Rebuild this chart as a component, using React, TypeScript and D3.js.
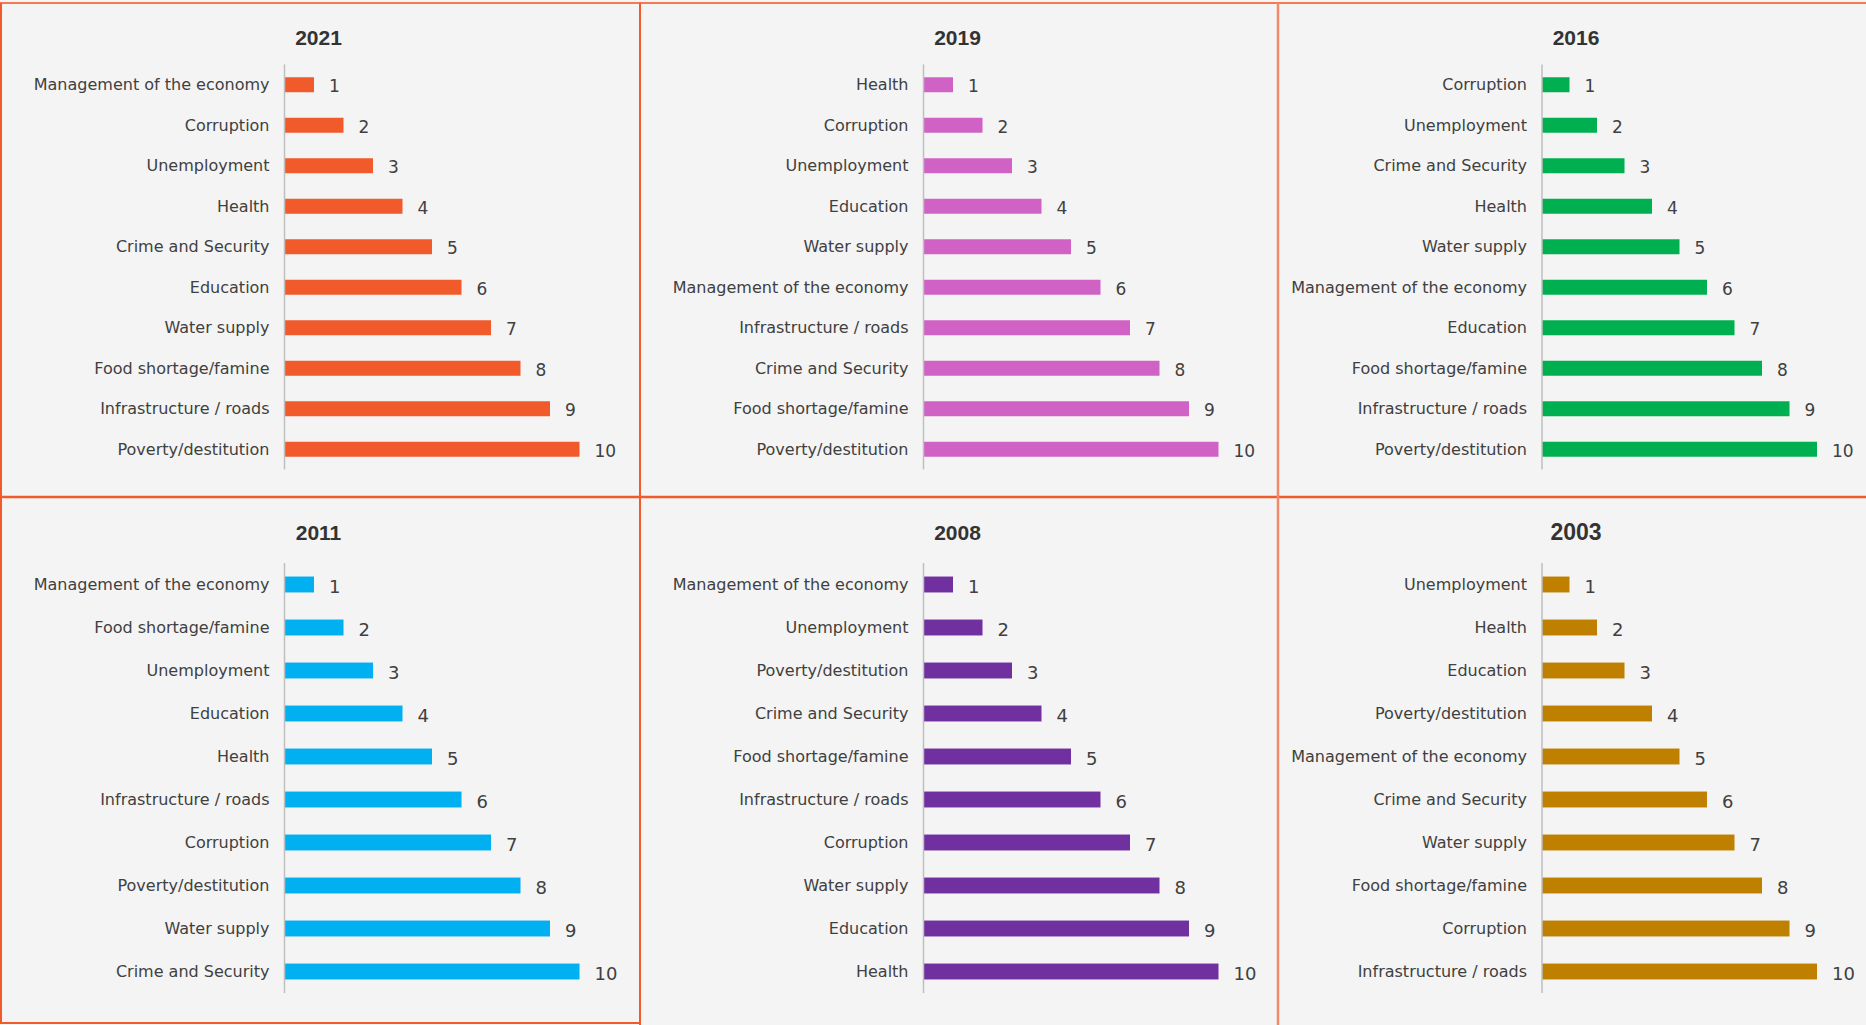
import React from "react";
import * as d3 from "d3";

const cats2021 = ["Management of the economy", "Corruption", "Unemployment", "Health", "Crime and Security", "Education", "Water supply", "Food shortage/famine", "Infrastructure / roads", "Poverty/destitution"];
const vals2021 = [1, 2, 3, 4, 5, 6, 7, 8, 9, 10];

const cats2019 = ["Health", "Corruption", "Unemployment", "Education", "Water supply", "Management of the economy", "Infrastructure / roads", "Crime and Security", "Food shortage/famine", "Poverty/destitution"];
const vals2019 = [1, 2, 3, 4, 5, 6, 7, 8, 9, 10];

const cats2016 = ["Corruption", "Unemployment", "Crime and Security", "Health", "Water supply", "Management of the economy", "Education", "Food shortage/famine", "Infrastructure / roads", "Poverty/destitution"];
const vals2016 = [1, 2, 3, 4, 5, 6, 7, 8, 9, 10];

const cats2011 = ["Management of the economy", "Food shortage/famine", "Unemployment", "Education", "Health", "Infrastructure / roads", "Corruption", "Poverty/destitution", "Water supply", "Crime and Security"];
const vals2011 = [1, 2, 3, 4, 5, 6, 7, 8, 9, 10];

const cats2008 = ["Management of the economy", "Unemployment", "Poverty/destitution", "Crime and Security", "Food shortage/famine", "Infrastructure / roads", "Corruption", "Water supply", "Education", "Health"];
const vals2008 = [1, 2, 3, 4, 5, 6, 7, 8, 9, 10];

const cats2003 = ["Unemployment", "Health", "Education", "Poverty/destitution", "Management of the economy", "Crime and Security", "Water supply", "Food shortage/famine", "Corruption", "Infrastructure / roads"];
const vals2003 = [1, 2, 3, 4, 5, 6, 7, 8, 9, 10];

const years = ["2021", "2019", "2016", "2011", "2008", "2003"];
const colors = ["#F15A2B", "#D062C6", "#00B050", "#00B0F0", "#7030A0", "#BF8000"];

const W = 1866;
const H = 1025;
const FONT = "'DejaVu Sans', sans-serif";

type PanelProps = {
  title: string;
  cats: string[];
  vals: number[];
  color: string;
  col: number;
  row: number;
};

const colAxisX = [284.5, 923.5, 1542];
const colLen = [295, 295, 275];
const rowBand = [[64.5, 469.5], [563, 993]];
const rowTitleY = [37, 532];

function Panel({ title, cats, vals, color, col, row }: PanelProps) {
  const ax = colAxisX[col];
  const x = d3.scaleLinear().domain([0, 10]).range([ax, ax + colLen[col]]);
  const [b0, b1] = rowBand[row];
  const p = 0.63;
  const y = d3.scaleBand<string>().domain(cats).range([b0, b1]).paddingInner(p).paddingOuter(p / 2);
  const titleSize = title === "2003" ? 23 : 21;
  const valSize = row === 0 ? 17 : 18;
  return (
    <g>
      <text x={ax + 34} y={rowTitleY[row]} textAnchor="middle" dominantBaseline="central"
        fontFamily="'Liberation Sans', Arial, sans-serif" fontWeight="bold" fontSize={titleSize} fill="#333">
        {title}
      </text>
      {cats.map((c, i) => (
        <g key={c}>
          <rect x={x(0)} y={y(c)!} width={x(vals[i]) - x(0)} height={y.bandwidth()} fill={color} />
          <text x={ax - 15} y={y(c)! + y.bandwidth() / 2} textAnchor="end" dominantBaseline="central"
            fontFamily={FONT} fontSize={16} fill="#404040">{c}</text>
          <text x={x(vals[i]) + 15} y={y(c)! + y.bandwidth() / 2 + 1.5} textAnchor="start" dominantBaseline="central"
            fontFamily={FONT} fontSize={valSize} fill="#404040">{vals[i]}</text>
        </g>
      ))}
      <line x1={ax} x2={ax} y1={b0} y2={b1} stroke="#BFBFBF" strokeWidth={1.5} />
    </g>
  );
}

export default function App() {
  const catsList = [cats2021, cats2019, cats2016, cats2011, cats2008, cats2003];
  const valsList = [vals2021, vals2019, vals2016, vals2011, vals2008, vals2003];
  return (
    <svg width={W} height={H} style={{ position: "fixed", left: 0, top: 0, background: "#F4F4F4" }}>
      <rect x={0} y={0} width={W} height={H} fill="#F4F4F4" />
      <line x1={0} x2={W} y1={3} y2={3} stroke="#F37A55" strokeWidth={2} />
      <line x1={0} x2={W} y1={497} y2={497} stroke="#F15A2B" strokeWidth={2.5} />
      <line x1={1} x2={1} y1={3} y2={1024} stroke="#F15A2B" strokeWidth={2} />
      <line x1={640} x2={640} y1={3} y2={H} stroke="#F15A2B" strokeWidth={2} />
      <line x1={1278} x2={1278} y1={3} y2={H} stroke="#F3896A" strokeWidth={2.5} />
      <line x1={1} x2={640} y1={1023} y2={1023} stroke="#F15A2B" strokeWidth={2} />
      {years.map((t, i) => (
        <Panel key={t} title={t} cats={catsList[i]} vals={valsList[i]} color={colors[i]} col={i % 3} row={Math.floor(i / 3)} />
      ))}
    </svg>
  );
}
